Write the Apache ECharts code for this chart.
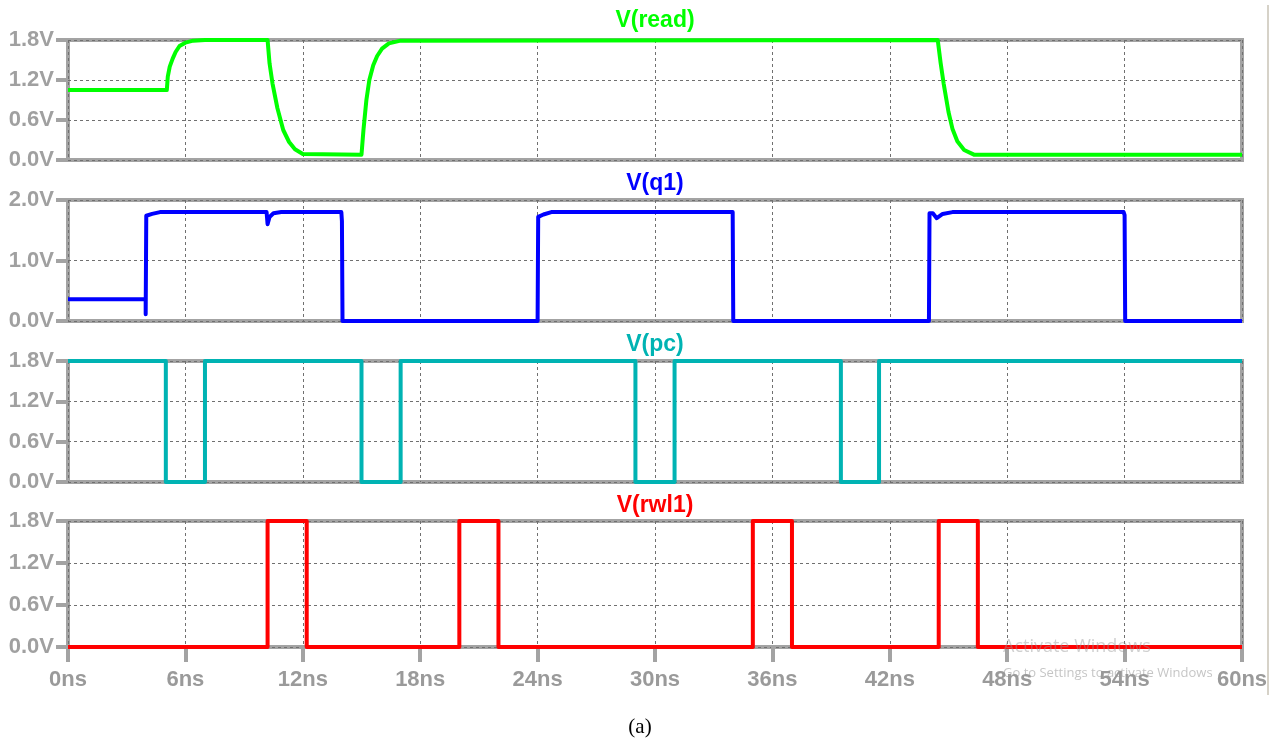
<!DOCTYPE html>
<html>
<head>
<meta charset="utf-8">
<script src="https://cdn.jsdelivr.net/npm/echarts@6/dist/echarts.min.js"></script>
<style>html,body{margin:0;padding:0;background:#fff;}#c{width:1280px;height:743px;}</style>
</head>
<body>
<div id="c"></div>
<script>
// ---- data (time in ns, voltage in V) ----
const xTicks = [0, 6, 12, 18, 24, 30, 36, 42, 48, 54, 60];

const readT = [0, 5.05, 5.1, 5.2, 5.35, 5.5, 5.7, 6.0, 6.4, 7.0, 10.2, 10.3, 10.45, 10.7, 11.0, 11.3, 11.6, 12.0, 15.0, 15.1, 15.25, 15.4, 15.6, 15.8, 16.05, 16.4, 17.0, 44.45, 44.6, 44.75, 45.0, 45.2, 45.45, 45.8, 46.3, 60];
const readV = [1.05, 1.05, 1.25, 1.4, 1.52, 1.62, 1.71, 1.76, 1.79, 1.8, 1.8, 1.45, 1.15, 0.78, 0.45, 0.27, 0.16, 0.09, 0.08, 0.45, 0.9, 1.2, 1.42, 1.56, 1.67, 1.75, 1.79, 1.8, 1.45, 1.15, 0.72, 0.47, 0.28, 0.15, 0.08, 0.08];

const q1T = [0, 3.97, 3.97, 4.0, 4.3, 4.7, 10.15, 10.2, 10.3, 10.5, 10.9, 13.97, 14.0, 14.03, 24.0, 24.03, 24.3, 24.7, 33.97, 34.0, 44.0, 44.03, 44.2, 44.4, 44.7, 45.2, 53.95, 54.0, 54.03, 60];
const q1V = [0.36, 0.36, 0.11, 1.74, 1.77, 1.8, 1.8, 1.6, 1.72, 1.78, 1.8, 1.8, 1.65, 0, 0, 1.72, 1.76, 1.8, 1.8, 0, 0, 1.78, 1.78, 1.70, 1.77, 1.8, 1.8, 1.75, 0, 0];

const pcT = [0, 5, 5, 7, 7, 15, 15, 17, 17, 29, 29, 31, 31, 39.5, 39.5, 41.45, 41.45, 60];
const pcV = [1.8, 1.8, 0, 0, 1.8, 1.8, 0, 0, 1.8, 1.8, 0, 0, 1.8, 1.8, 0, 0, 1.8, 1.8];

const rwlT = [0, 10.2, 10.2, 12.2, 12.2, 20, 20, 22, 22, 35, 35, 37, 37, 44.5, 44.5, 46.5, 46.5, 60];
const rwlV = [0, 0, 1.8, 1.8, 0, 0, 1.8, 1.8, 0, 0, 1.8, 1.8, 0, 0, 1.8, 1.8, 0, 0];

const titles = ['V(read)', 'V(q1)', 'V(pc)', 'V(rwl1)'];
const colors = ['#00ff00', '#0000ff', '#00b3b3', '#ff0000'];
const yMax = [1.8, 2.0, 1.8, 1.8];
const yInterval = [0.6, 1.0, 0.6, 0.6];

// ---- layout ----
const panels = [
  {top: 40, height: 120, titleY: 21},
  {top: 200, height: 121, titleY: 184},
  {top: 361, height: 121, titleY: 345},
  {top: 521, height: 126, titleY: 506}
];
const LEFT = 68, RIGHT = 38;
const GRAY = '#a3a3a3';
const FONT = "'Liberation Sans', Arial, sans-serif";

function pairs(t, v) { return t.map((x, i) => [x, v[i]]); }
const seriesData = [pairs(readT, readV), pairs(q1T, q1V), pairs(pcT, pcV), pairs(rwlT, rwlV)];

const grid = [], xAxis = [], yAxis = [], series = [], graphic = [];
panels.forEach((p, i) => {
  const last = i === panels.length - 1;
  grid.push({left: LEFT, right: RIGHT, top: p.top, height: p.height, show: true,
    containLabel: false, outerBoundsMode: 'none',
    borderWidth: 4, borderColor: GRAY, backgroundColor: 'transparent'});
  xAxis.push({type: 'value', gridIndex: i, min: 0, max: 60, interval: 6,
    axisLine: {show: false},
    axisTick: {show: last, length: 15, lineStyle: {color: GRAY, width: 4}},
    axisLabel: {show: last, margin: 22, color: '#9a9a9a', fontFamily: FONT, fontWeight: 'bold', fontSize: 22,
      formatter: v => v + 'ns'},
    splitLine: {show: true, lineStyle: {color: '#707070', width: 1, type: [3, 3]}}
  });
  yAxis.push({type: 'value', gridIndex: i, min: 0, max: yMax[i], interval: yInterval[i],
    axisLine: {show: false},
    axisTick: {show: true, length: 12, lineStyle: {color: GRAY, width: 4}},
    axisLabel: {margin: 14, color: '#a0a0a0', fontFamily: FONT, fontWeight: 'bold', fontSize: 22,
      formatter: v => v.toFixed(1) + 'V'},
    splitLine: {show: true, lineStyle: {color: '#707070', width: 1, type: [3, 3]}}
  });
  series.push({type: 'line', xAxisIndex: i, yAxisIndex: i, data: seriesData[i], showSymbol: false,
    clip: false, z: 5, lineStyle: {color: colors[i], width: 4, join: 'round'}, animation: false});
  graphic.push({type: 'text', x: (LEFT + 1280 - RIGHT) / 2, y: p.titleY,
    style: {text: titles[i], fill: colors[i], font: "bold 23px " + FONT, textAlign: 'center', textVerticalAlign: 'middle'}});
});

// extra decorations from the screenshot
graphic.push({type: 'text', x: 1003, y: 647, z: 10,
  style: {text: 'Activate Windows', fill: 'rgba(150,150,150,0.45)', font: "18px 'Open Sans', sans-serif", textVerticalAlign: 'middle'}});
graphic.push({type: 'text', x: 1003, y: 673, z: 10,
  style: {text: 'Go to Settings to activate Windows', fill: 'rgba(150,150,150,0.55)', font: "13px 'Open Sans', sans-serif", textVerticalAlign: 'middle'}});
graphic.push({type: 'line', shape: {x1: 1268, y1: 5, x2: 1268, y2: 695}, style: {stroke: '#d6d2c8', lineWidth: 2}});
graphic.push({type: 'text', x: 640, y: 727,
  style: {text: '(a)', fill: '#000', font: "21px 'Liberation Serif', serif", textAlign: 'center', textVerticalAlign: 'middle'}});

const chart = echarts.init(document.getElementById('c'), null, {renderer: 'canvas'});
chart.setOption({animation: false, backgroundColor: '#fff', grid, xAxis, yAxis, series, graphic});
</script>
</body>
</html>
